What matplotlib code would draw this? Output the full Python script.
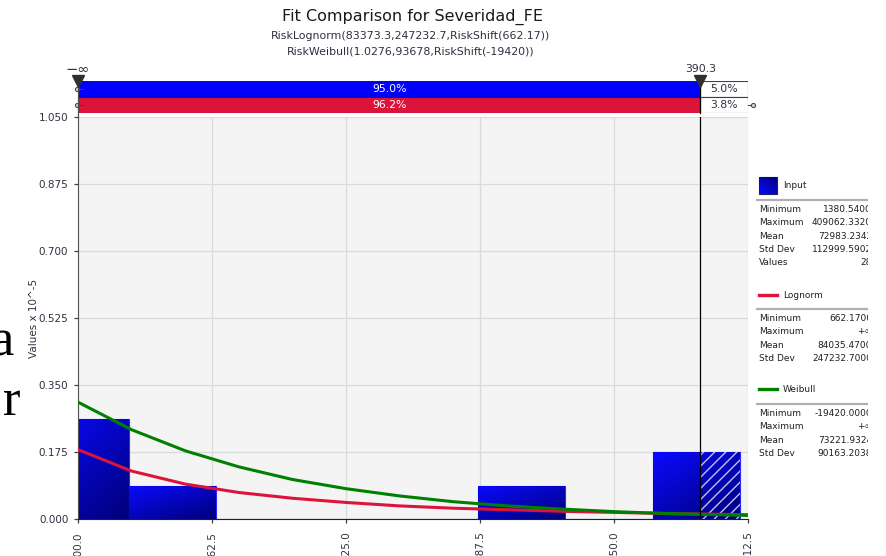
#!/usr/bin/env python3

import numpy as np
import matplotlib
matplotlib.use('Agg')
import matplotlib.pyplot as plt
from matplotlib.patches import Rectangle
from matplotlib.colors import LinearSegmentedColormap

# histogram of the input (x in thousands, density in 1e-5 units)
bin_left = [83.1, 123.8, 164.5, 205.2, 245.9, 286.6, 327.3, 368.0]
bin_width = 40.7
bin_height = [0.263, 0.088, 0.0, 0.0, 0.0, 0.088, 0.0, 0.176]

# fitted densities read along the x range
curve_x = [100.0, 125.0, 150.0, 175.0, 200.0, 225.0, 250.0, 275.0,
           300.0, 325.0, 350.0, 375.0, 400.0, 412.5]
lognorm_y = [0.182, 0.126, 0.092, 0.070, 0.055, 0.044, 0.035, 0.029,
             0.025, 0.021, 0.018, 0.015, 0.013, 0.012]
weibull_y = [0.306, 0.234, 0.179, 0.137, 0.104, 0.080, 0.061, 0.046,
             0.035, 0.027, 0.020, 0.015, 0.012, 0.010]

x_ticks = [100.0, 162.5, 225.0, 287.5, 350.0, 412.5]
y_ticks = [0.0, 0.175, 0.35, 0.525, 0.7, 0.875, 1.05]

# delimiter
cut_value = 390.3
input_left, input_right = 95.0, 5.0
lognorm_left, lognorm_right = 96.2, 3.8

input_stats = [('Minimum', '1380.5400'), ('Maximum', '409062.3320'),
               ('Mean', '72983.2342'), ('Std Dev', '112999.5902'),
               ('Values', '28')]
lognorm_stats = [('Minimum', '662.1700'), ('Maximum', '+\u221e'),
                 ('Mean', '84035.4700'), ('Std Dev', '247232.7000')]
weibull_stats = [('Minimum', '-19420.0000'), ('Maximum', '+\u221e'),
                 ('Mean', '73221.9324'), ('Std Dev', '90163.2038')]

BLUE = '#0000ff'
RED = '#dc143c'
GREEN = '#008000'
TXT = '#303040'

W, H = 886, 556


def fx(px):
    return px / W


def fy(py):
    return 1 - py / H


bar_cmap = LinearSegmentedColormap.from_list('bar', ['#0a0aff', '#00007a'])


def gradient_fill(ax, rect):
    x0, y0 = rect.get_x(), rect.get_y()
    w, h = rect.get_width(), rect.get_height()
    u = np.linspace(0, 1, 60)
    v = np.linspace(0, 1, 60)
    uu, vv = np.meshgrid(u, v)
    t = 0.55 * vv + 0.45 * uu
    im = ax.imshow(t, cmap=bar_cmap, extent=[x0, x0 + w, y0, y0 + h],
                   origin='upper', aspect='auto', zorder=2, vmin=0, vmax=1)
    # path clip keeps the axes clip box as well
    im.set_clip_path(rect.get_path(), rect.get_transform())


def main():
    plt.rcParams['font.family'] = ['DejaVu Sans']
    fig = plt.figure(figsize=(W / 100, H / 100), dpi=100)

    fig.text(fx(412), fy(17), 'Fit Comparison for Severidad_FE',
             ha='center', va='center', fontsize=11.5, color='#1a1a1a')
    fig.text(fx(411), fy(36), 'RiskLognorm(83373.3,247232.7,RiskShift(662.17))',
             ha='center', va='center', fontsize=7.9, color=TXT)
    fig.text(fx(411), fy(51), 'RiskWeibull(1.0276,93678,RiskShift(-19420))',
             ha='center', va='center', fontsize=7.9, color=TXT)

    # document text peeking in at the left edge
    fig.text(fx(13), fy(355), 'a', ha='right', va='baseline', fontsize=38,
             family='Liberation Serif', color='black')
    fig.text(fx(20), fy(415), 'r', ha='right', va='baseline', fontsize=38,
             family='Liberation Serif', color='black')

    # main plot
    ax = fig.add_axes([fx(78), fy(519.3), (748 - 78) / W, (519.3 - 117.3) / H])
    ax.set_facecolor('#f4f4f4')
    for left, h in zip(bin_left, bin_height):
        rect = Rectangle((left, 0), bin_width, h, facecolor=BLUE,
                         edgecolor='#2a2aff', lw=0.8, zorder=2)
        ax.add_patch(rect)
        if h > 0:
            gradient_fill(ax, rect)
            right = left + bin_width
            if right > cut_value:
                ax.add_patch(Rectangle((max(left, cut_value), 0),
                                       right - max(left, cut_value), h,
                                       fill=False, hatch='///',
                                       edgecolor='#c0c0f4', lw=0, zorder=3))

    ax.plot(curve_x, lognorm_y, color=RED, lw=2.2, zorder=4)
    ax.plot(curve_x, weibull_y, color=GREEN, lw=2.2, zorder=5)
    ax.axvline(cut_value, color='black', lw=0.9, zorder=6)

    ax.set_xlim(x_ticks[0], x_ticks[-1])
    ax.set_ylim(y_ticks[0], y_ticks[-1])
    ax.set_xticks(x_ticks)
    ax.set_xticklabels(['%.1f' % v for v in x_ticks], rotation=90)
    ax.set_yticks(y_ticks)
    ax.set_yticklabels(['%.3f' % v for v in y_ticks])
    ax.tick_params(axis='both', labelsize=7.5, labelcolor=TXT,
                   color='#404040', length=3, width=0.9, pad=4)
    ax.tick_params(axis='x', pad=5.5)
    ax.grid(True, color='#dadada', lw=0.9)
    ax.set_axisbelow(True)
    for side in ['top', 'right']:
        ax.spines[side].set_visible(False)
    ax.spines['left'].set_color('#505050')
    ax.spines['bottom'].set_color('#202020')
    ax.set_ylabel('Values x 10^-5', fontsize=7.5, color=TXT)
    ax.yaxis.set_label_coords(-0.058, 0.5)

    # delimiter bars above the plot
    bx = fig.add_axes([fx(78), fy(113), (748 - 78) / W, 32 / H])
    bx.set_xlim(x_ticks[0], x_ticks[-1])
    bx.set_ylim(0, 2)
    bx.axis('off')
    rows = [(1, BLUE, input_left, input_right),
            (0, RED, lognorm_left, lognorm_right)]
    for y0, col, lpct, rpct in rows:
        bx.add_patch(Rectangle((x_ticks[0], y0), cut_value - x_ticks[0], 1,
                               facecolor=col, edgecolor='#202020', lw=0.8))
        bx.add_patch(Rectangle((cut_value, y0), x_ticks[-1] - cut_value, 1,
                               facecolor='white', edgecolor='#404040', lw=0.8))
        bx.text((x_ticks[0] + cut_value) / 2, y0 + 0.5, '%.1f%%' % lpct,
                ha='center', va='center', color='white', fontsize=7.8)
        bx.text((cut_value + x_ticks[-1]) / 2, y0 + 0.5, '%.1f%%' % rpct,
                ha='center', va='center', color=TXT, fontsize=7.8)
        # slider handles on the left edge
        bx.plot([x_ticks[0], x_ticks[0] + 2.5], [y0 + 0.5, y0 + 0.5],
                color='#404040', lw=0.8, clip_on=False)
        bx.plot([x_ticks[0] - 0.5], [y0 + 0.5], marker='o', ms=3,
                mfc='#d0d0d0', mec='#404040', mew=0.7, clip_on=False)
    bx.plot([x_ticks[-1], x_ticks[-1] + 2.2], [0.5, 0.5], color='#404040',
            lw=0.8, clip_on=False)
    bx.plot([x_ticks[-1] + 2.2], [0.5], marker='o', ms=3, mfc='#d0d0d0',
            mec='#404040', mew=0.7, clip_on=False)
    bx.plot([x_ticks[0], x_ticks[0]], [-0.25, 2.0], color='#505050', lw=0.9,
            clip_on=False)
    bx.plot([cut_value, cut_value], [0, 2.0], color='black', lw=0.9,
            clip_on=False)
    for xv, lab, fs in [(x_ticks[0], '\u2212\u221e', 10.5),
                        (cut_value, '%.1f' % cut_value, 7.8)]:
        bx.plot([xv], [2.0], marker='v', ms=8, color='#303030', clip_on=False,
                zorder=5)
        bx.text(xv, 2.72, lab, ha='center', va='center', fontsize=fs,
                color=TXT, clip_on=False)

    # side legend with summary statistics
    lx = fig.add_axes([fx(752), fy(470), (868 - 752) / W, (470 - 160) / H])
    lx.set_xlim(752, 868)
    lx.set_ylim(470, 160)
    lx.axis('off')

    sq = Rectangle((759, 177), 18, 17, facecolor=BLUE, edgecolor='#202060', lw=0.8)
    lx.add_patch(sq)
    gradient_fill(lx, sq)
    lx.set_xlim(752, 868)
    lx.set_ylim(470, 160)
    lx.text(783, 185, 'Input', va='center', fontsize=6.5, color='#202020')

    blocks = [(200, input_stats),
              (309, lognorm_stats),
              (404, weibull_stats)]
    lx.plot([759, 777], [295, 295], color=RED, lw=2.4)
    lx.text(783, 295, 'Lognorm', va='center', fontsize=6.5, color='#202020')
    lx.plot([759, 777], [389, 389], color=GREEN, lw=2.4)
    lx.text(783, 389, 'Weibull', va='center', fontsize=6.5, color='#202020')
    for sep, stats in blocks:
        lx.plot([757, 868], [sep, sep], color='#b0b0b0', lw=1.6, clip_on=True)
        for i, (name, val) in enumerate(stats):
            yy = sep + 9.5 + 13.3 * i
            lx.text(759, yy, name, va='center', fontsize=6.5, color='#202020',
                    clip_on=True)
            lx.text(872, yy, val, va='center', ha='right', fontsize=6.5,
                    color='#202020', clip_on=True)

    fig.savefig('out.png', dpi=100)


if __name__ == '__main__':
    main()
